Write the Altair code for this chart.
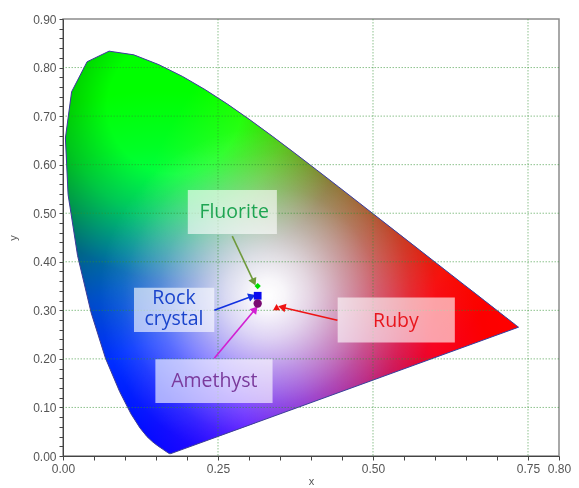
import math
import altair as alt
import pandas as pd

# ---------------- data ----------------
# CIE 1931 spectral locus (380..700 nm, 5 nm steps)
locus_x = [0.1741, 0.1740, 0.1738, 0.1736, 0.1733, 0.1730, 0.1726, 0.1721, 0.1714, 0.1703,
           0.1689, 0.1669, 0.1644, 0.1611, 0.1566, 0.1510, 0.1440, 0.1355, 0.1241, 0.1096,
           0.0913, 0.0687, 0.0454, 0.0235, 0.0082, 0.0039, 0.0139, 0.0389, 0.0743, 0.1142,
           0.1547, 0.1929, 0.2296, 0.2658, 0.3016, 0.3373, 0.3731, 0.4087, 0.4441, 0.4788,
           0.5125, 0.5448, 0.5752, 0.6029, 0.6270, 0.6482, 0.6658, 0.6801, 0.6915, 0.7006,
           0.7079, 0.7140, 0.7190, 0.7230, 0.7260, 0.7283, 0.7300, 0.7311, 0.7320, 0.7327,
           0.7334, 0.7340, 0.7344, 0.7346, 0.7347]
locus_y = [0.0050, 0.0050, 0.0049, 0.0049, 0.0048, 0.0048, 0.0048, 0.0048, 0.0051, 0.0058,
           0.0069, 0.0086, 0.0109, 0.0138, 0.0177, 0.0227, 0.0297, 0.0399, 0.0578, 0.0868,
           0.1327, 0.2007, 0.2950, 0.4127, 0.5384, 0.6548, 0.7502, 0.8120, 0.8338, 0.8262,
           0.8059, 0.7816, 0.7543, 0.7243, 0.6923, 0.6589, 0.6245, 0.5896, 0.5547, 0.5202,
           0.4866, 0.4544, 0.4242, 0.3965, 0.3725, 0.3514, 0.3340, 0.3197, 0.3083, 0.2993,
           0.2920, 0.2859, 0.2809, 0.2770, 0.2740, 0.2717, 0.2700, 0.2689, 0.2680, 0.2673,
           0.2666, 0.2660, 0.2656, 0.2654, 0.2653]

grid_x = [0.25, 0.50, 0.75]
grid_y = [0.10, 0.20, 0.30, 0.40, 0.50, 0.60, 0.70, 0.80]

x_ticks = [0.00, 0.05, 0.10, 0.15, 0.20, 0.25, 0.30, 0.35, 0.40, 0.45, 0.50,
           0.55, 0.60, 0.65, 0.70, 0.75, 0.80]
x_labels = [0.00, 0.25, 0.50, 0.75, 0.80]
y_ticks = [0.00, 0.02, 0.04, 0.06, 0.08, 0.10, 0.12, 0.14, 0.16, 0.18, 0.20, 0.22, 0.24,
           0.26, 0.28, 0.30, 0.32, 0.34, 0.36, 0.38, 0.40, 0.42, 0.44, 0.46, 0.48, 0.50,
           0.52, 0.54, 0.56, 0.58, 0.60, 0.62, 0.64, 0.66, 0.68, 0.70, 0.72, 0.74, 0.76,
           0.78, 0.80, 0.82, 0.84, 0.86, 0.88, 0.90]

minerals = ["Fluorite", "Rock crystal", "Amethyst", "Ruby"]
mineral_x = [0.314, 0.314, 0.314, 0.3445]
mineral_y = [0.350, 0.330, 0.314, 0.3065]
mineral_shapes = ["diamond", "square", "circle", "triangle-up"]
mineral_colors = ["#00dd00", "#0a0aee", "#7a0a72", "#ee1111"]
mineral_sizes = [40, 60, 70, 50]

label_text = ["Fluorite", "Rock\ncrystal", "Amethyst", "Ruby"]
label_x = [0.276, 0.179, 0.244, 0.537]
label_y = [0.502, 0.3245, 0.154, 0.278]
box_x1 = [0.2013, 0.1145, 0.149, 0.443]
box_x2 = [0.345, 0.244, 0.338, 0.632]
box_y1 = [0.457, 0.2556, 0.1092, 0.2337]
box_y2 = [0.5476, 0.3463, 0.1993, 0.3265]
text_colors = ["#1ea552", "#1a44cc", "#7a3a9c", "#e8161c"]

arrow_x1 = [0.273, 0.244, 0.244, 0.4425]
arrow_y1 = [0.453, 0.300, 0.2015, 0.2797]
arrow_x2 = [0.308, 0.305, 0.310, 0.353]
arrow_y2 = [0.358, 0.329, 0.3023, 0.3065]
arrow_colors = ["#6f9a3c", "#1030e0", "#d21fd2", "#ee1414"]

# colour-fill style (primaries: centre, radius, intensity falloff (distance, level))
green_glow = ((0.18, 0.72), 0.66, [(0, 1), (0.12, 1), (0.2, 0.78), (0.31, 0.4),
                                   (0.42, 0.24), (0.5, 0.14), (0.58, 0.05), (0.66, 0)])
red_glow = ((0.725, 0.285), 0.70, [(0, 1), (0.15, 0.97), (0.31, 0.64), (0.4, 0.48),
                                   (0.51, 0.33), (0.6, 0.14), (0.7, 0)])
blue_glow = ((0.16, 0.06), 0.60, [(0, 1), (0.15, 1), (0.26, 0.78), (0.41, 0.34),
                                  (0.5, 0.14), (0.6, 0)])
white_glow = ((0.33, 0.33), 0.30, [(0, 1), (0.03, 0.95), (0.075, 0.78), (0.135, 0.5),
                                   (0.195, 0.25), (0.255, 0.08), (0.30, 0)])

# ---------------- layout ----------------
W, H = 496, 437
XMAX, YMAX = 0.8, 0.9
PX_PER_UNIT = 560  # approximate isotropic pixel scale for radial distances


def px(v):
    return v / XMAX * W


def py(v):
    return H * (1 - v / YMAX)


# bounding box of the locus polygon in pixels (for gradient placement)
pxs = [px(v) for v in locus_x]
pys = [py(v) for v in locus_y]
bx0, bx1, by0, by1 = min(pxs), max(pxs), min(pys), max(pys)
bw, bh = bx1 - bx0, by1 - by0
S = max(bw, bh)
sx0 = bx0 + (bw - S) / 2
sy0 = by0 + (bh - S) / 2


def radial(glow, rgb, alpha_mode=False):
    (cx, cy), R, stops = glow
    u = (px(cx) - sx0) / S
    v = (py(cy) - sy0) / S
    r = R * PX_PER_UNIT / S
    out = []
    for d, lev in stops:
        if alpha_mode:
            col = f"rgba({rgb[0]},{rgb[1]},{rgb[2]},{lev})"
        else:
            col = "rgb(%d,%d,%d)" % tuple(round(c * lev) for c in rgb)
        out.append({"offset": d / R, "color": col})
    return {"gradient": "radial", "x1": u, "y1": v, "r1": 0,
            "x2": u, "y2": v, "r2": r, "stops": out}


locus = pd.DataFrame({"x": locus_x, "y": locus_y, "i": list(range(len(locus_x)))})

xs = alt.Scale(domain=[0, XMAX], nice=False, zero=False)
ys = alt.Scale(domain=[0, YMAX], nice=False, zero=False)

x_label_expr = ("indexof([0,25,50,75,80], round(datum.value*100)) >= 0 ? "
                "format(datum.value, '.2f') : ''")
y_label_expr = ("round(datum.value*100) % 10 == 0 ? format(datum.value, '.2f') : ''")

x_axis = alt.Axis(values=x_ticks, labelExpr=x_label_expr, grid=False, title="x",
                  labelOverlap=False, labelFlush=False, tickSize=4, titlePadding=1)
y_axis = alt.Axis(values=y_ticks, labelExpr=y_label_expr, grid=False, title="y",
                  labelOverlap=False, labelFlush=False, tickSize=4, titlePadding=14)


def X(field):
    return alt.X(field, scale=xs, axis=x_axis)


def Y(field):
    return alt.Y(field, scale=ys, axis=y_axis)


enc = dict(x=X("x:Q"), y=Y("y:Q"), order=alt.Order("i:Q"))


def poly(**kw):
    return alt.Chart(locus).mark_line(interpolate="linear-closed", **kw).encode(**enc)


base = poly(fill="#000000", strokeOpacity=0)
g_layer = poly(fill=radial(green_glow, (0, 255, 0)), strokeOpacity=0, blend="screen")
r_layer = poly(fill=radial(red_glow, (255, 0, 0)), strokeOpacity=0, blend="screen")
b_layer = poly(fill=radial(blue_glow, (0, 0, 255)), strokeOpacity=0, blend="screen")
w_layer = poly(fill=radial(white_glow, (255, 255, 255), alpha_mode=True), strokeOpacity=0)
outline = poly(stroke="#3d3d9e", strokeWidth=1)

gx = alt.Chart(pd.DataFrame({"x": grid_x})).mark_rule(
    color="#2f8f2f", strokeDash=[1.5, 1.5], strokeWidth=1, opacity=0.55
).encode(x=X("x:Q"))
gy = alt.Chart(pd.DataFrame({"y": grid_y})).mark_rule(
    color="#2f8f2f", strokeDash=[1.5, 1.5], strokeWidth=1, opacity=0.55
).encode(y=Y("y:Q"))

ann = pd.DataFrame({
    "name": minerals, "label": label_text, "lx": label_x, "ly": label_y,
    "bx1": box_x1, "bx2": box_x2, "by1": box_y1, "by2": box_y2,
    "tc": text_colors, "ax1": arrow_x1, "ay1": arrow_y1, "ax2": arrow_x2,
    "ay2": arrow_y2, "ac": arrow_colors,
})
angles = []
for a, b, c, d in zip(arrow_x1, arrow_y1, arrow_x2, arrow_y2):
    dx = px(c) - px(a)
    dy = py(d) - py(b)
    angles.append(math.degrees(math.atan2(dx, -dy)) % 360)
ann["angle"] = angles

boxes = alt.Chart(ann).mark_rect(color="white", opacity=0.62).encode(
    x=X("bx1:Q"), x2="bx2:Q", y=Y("by1:Q"), y2="by2:Q",
)
arrows = alt.Chart(ann).mark_rule(strokeWidth=1.6).encode(
    x=X("ax1:Q"), x2="ax2:Q", y=Y("ay1:Q"), y2="ay2:Q",
    color=alt.Color("ac:N", scale=None),
)
heads = alt.Chart(ann).mark_point(shape="triangle-up", filled=True, size=75,
                                  opacity=1).encode(
    x=X("ax2:Q"), y=Y("ay2:Q"),
    angle=alt.Angle("angle:Q", scale=None),
    color=alt.Color("ac:N", scale=None),
)

pts = pd.DataFrame({"name": minerals, "x": mineral_x, "y": mineral_y,
                    "shape": mineral_shapes, "c": mineral_colors, "s": mineral_sizes})
points = alt.Chart(pts).mark_point(filled=True, opacity=1).encode(
    x=X("x:Q"), y=Y("y:Q"),
    shape=alt.Shape("shape:N", scale=None),
    color=alt.Color("c:N", scale=None),
    size=alt.Size("s:Q", scale=None),
)

texts = alt.Chart(ann).mark_text(font="Open Sans", fontSize=19.5, lineBreak="\n",
                                 lineHeight=21, align="center",
                                 baseline="middle").encode(
    x=X("lx:Q"), y=Y("ly:Q"),
    text="label:N",
    color=alt.Color("tc:N", scale=None),
)

chart = alt.layer(base, g_layer, r_layer, b_layer, w_layer, outline, gx, gy, boxes,
                  arrows, heads, points, texts).properties(
    width=W, height=H,
    padding={"left": 55, "top": 11, "right": 12, "bottom": 30},
    autosize=alt.AutoSizeParams(type="none"),
).configure_view(
    stroke="#8c8c8c", strokeWidth=1.5
).configure_axis(
    labelFont="Liberation Sans", labelFontSize=12, labelColor="#555555",
    titleFont="Liberation Sans", titleFontSize=11, titleFontWeight="normal",
    titleColor="#555555", domainColor="#444444", tickColor="#444444",
    labelPadding=3,
)

chart.save("out.html", embed_options={"renderer": "svg", "actions": False})
